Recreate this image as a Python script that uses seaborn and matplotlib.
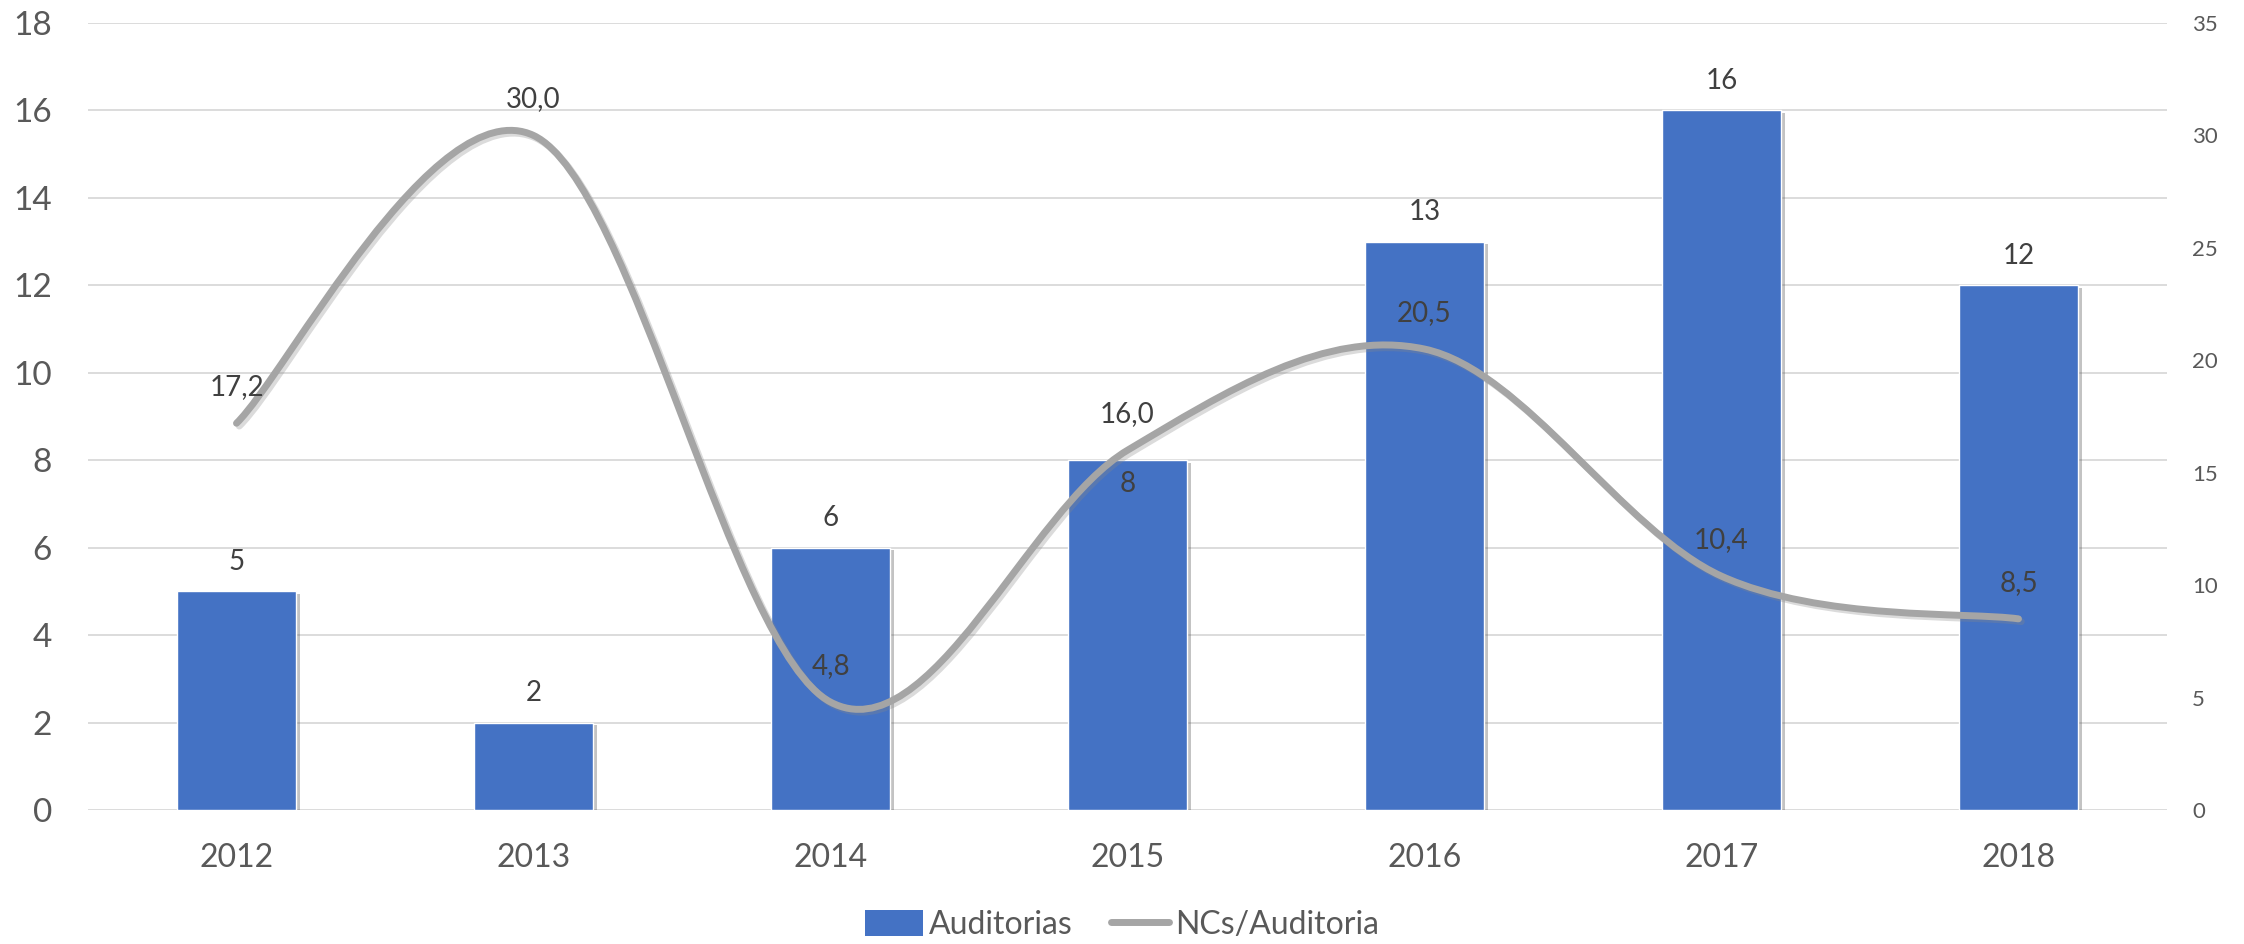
import matplotlib
matplotlib.use('Agg')
import matplotlib.pyplot as plt
import matplotlib.patheffects as pe
from matplotlib.path import Path
from matplotlib.patches import PathPatch, Patch
from matplotlib.lines import Line2D
import seaborn as sns

years = ['2012', '2013', '2014', '2015', '2016', '2017', '2018']
auditorias = [5, 2, 6, 8, 13, 16, 12]
ncs_por_auditoria = [17.2, 30.0, 4.8, 16.0, 20.5, 10.4, 8.5]

BLUE = '#4472C4'
GRAY = '#A5A5A5'
TICK = '#595959'
LABEL = '#404040'

sns.set_style('white')
plt.rcParams['font.family'] = ['Lato', 'DejaVu Sans']


def smooth_path(xs, ys):
    # Catmull-Rom style bezier, like Excel's "smoothed line"
    n = len(xs)
    verts = [(xs[0], ys[0])]
    codes = [Path.MOVETO]
    for i in range(n - 1):
        i0 = max(i - 1, 0)
        i3 = min(i + 2, n - 1)
        c1 = (xs[i] + (xs[i + 1] - xs[i0]) / 6, ys[i] + (ys[i + 1] - ys[i0]) / 6)
        c2 = (xs[i + 1] - (xs[i3] - xs[i]) / 6, ys[i + 1] - (ys[i3] - ys[i]) / 6)
        verts += [c1, c2, (xs[i + 1], ys[i + 1])]
        codes += [Path.CURVE4] * 3
    return Path(verts, codes)


fig = plt.figure(figsize=(22.44, 9.44), dpi=100)
ax = fig.add_axes([88 / 2244, 1 - 810 / 944, (2167 - 88) / 2244, (810 - 23) / 944])

sns.barplot(x=years, y=auditorias, color=BLUE, saturation=1, width=0.4, ax=ax, zorder=2)
for bar in ax.patches:
    bar.set_path_effects([pe.SimplePatchShadow(offset=(3, -2), shadow_rgbFace='#555555', alpha=0.35),
                          pe.Normal()])

ax.set_ylim(0, 18)
ax.set_yticks(range(0, 19, 2))
ax.set_xlim(-0.5, 6.5)
ax.yaxis.grid(True, color='#D9D9D9', linewidth=1.3, zorder=0)
ax.set_axisbelow(True)
for s in ax.spines.values():
    s.set_visible(False)
ax.set_xlabel('')
ax.tick_params(axis='y', length=0, pad=26, labelsize=24, labelcolor=TICK)
ax.tick_params(axis='x', length=0, pad=24, labelsize=23, labelcolor=TICK)

for i, v in enumerate(auditorias):
    off = -17 if years[i] == '2015' else 21
    ax.annotate(str(v), (i, v), xytext=(0, off), textcoords='offset points',
                ha='center', va='center', fontsize=20, color=LABEL)

ax2 = ax.twinx()
ax2.set_ylim(0, 35)
ax2.set_yticks(range(0, 36, 5))
for s in ax2.spines.values():
    s.set_visible(False)
ax2.tick_params(axis='y', length=0, pad=18, labelsize=16, labelcolor=TICK)

xs = list(range(len(years)))
line = PathPatch(smooth_path(xs, ncs_por_auditoria), fill=False, edgecolor=GRAY,
                 linewidth=5, capstyle='round', joinstyle='round', zorder=3)
line.set_path_effects([pe.SimpleLineShadow(offset=(2, -2), shadow_color='#888888', alpha=0.3),
                       pe.Normal()])
ax2.add_patch(line)

for i, v in enumerate(ncs_por_auditoria):
    ax2.annotate(f'{v:.1f}'.replace('.', ','), (i, v), xytext=(0, 26), textcoords='offset points',
                 ha='center', va='center', fontsize=20, color=LABEL, zorder=4)

handles = [Patch(facecolor=BLUE, edgecolor='none'),
           Line2D([0], [0], color=GRAY, linewidth=5, solid_capstyle='round')]
fig.legend(handles, ['Auditorias', 'NCs/Auditoria'], loc='center', bbox_to_anchor=(0.5, 0.02),
           ncol=2, frameon=False, fontsize=23, labelcolor=TICK, handlelength=1.8,
           handleheight=0.9, handletextpad=0.2, columnspacing=1.2)

fig.savefig('out.png', dpi=100, facecolor='white')
